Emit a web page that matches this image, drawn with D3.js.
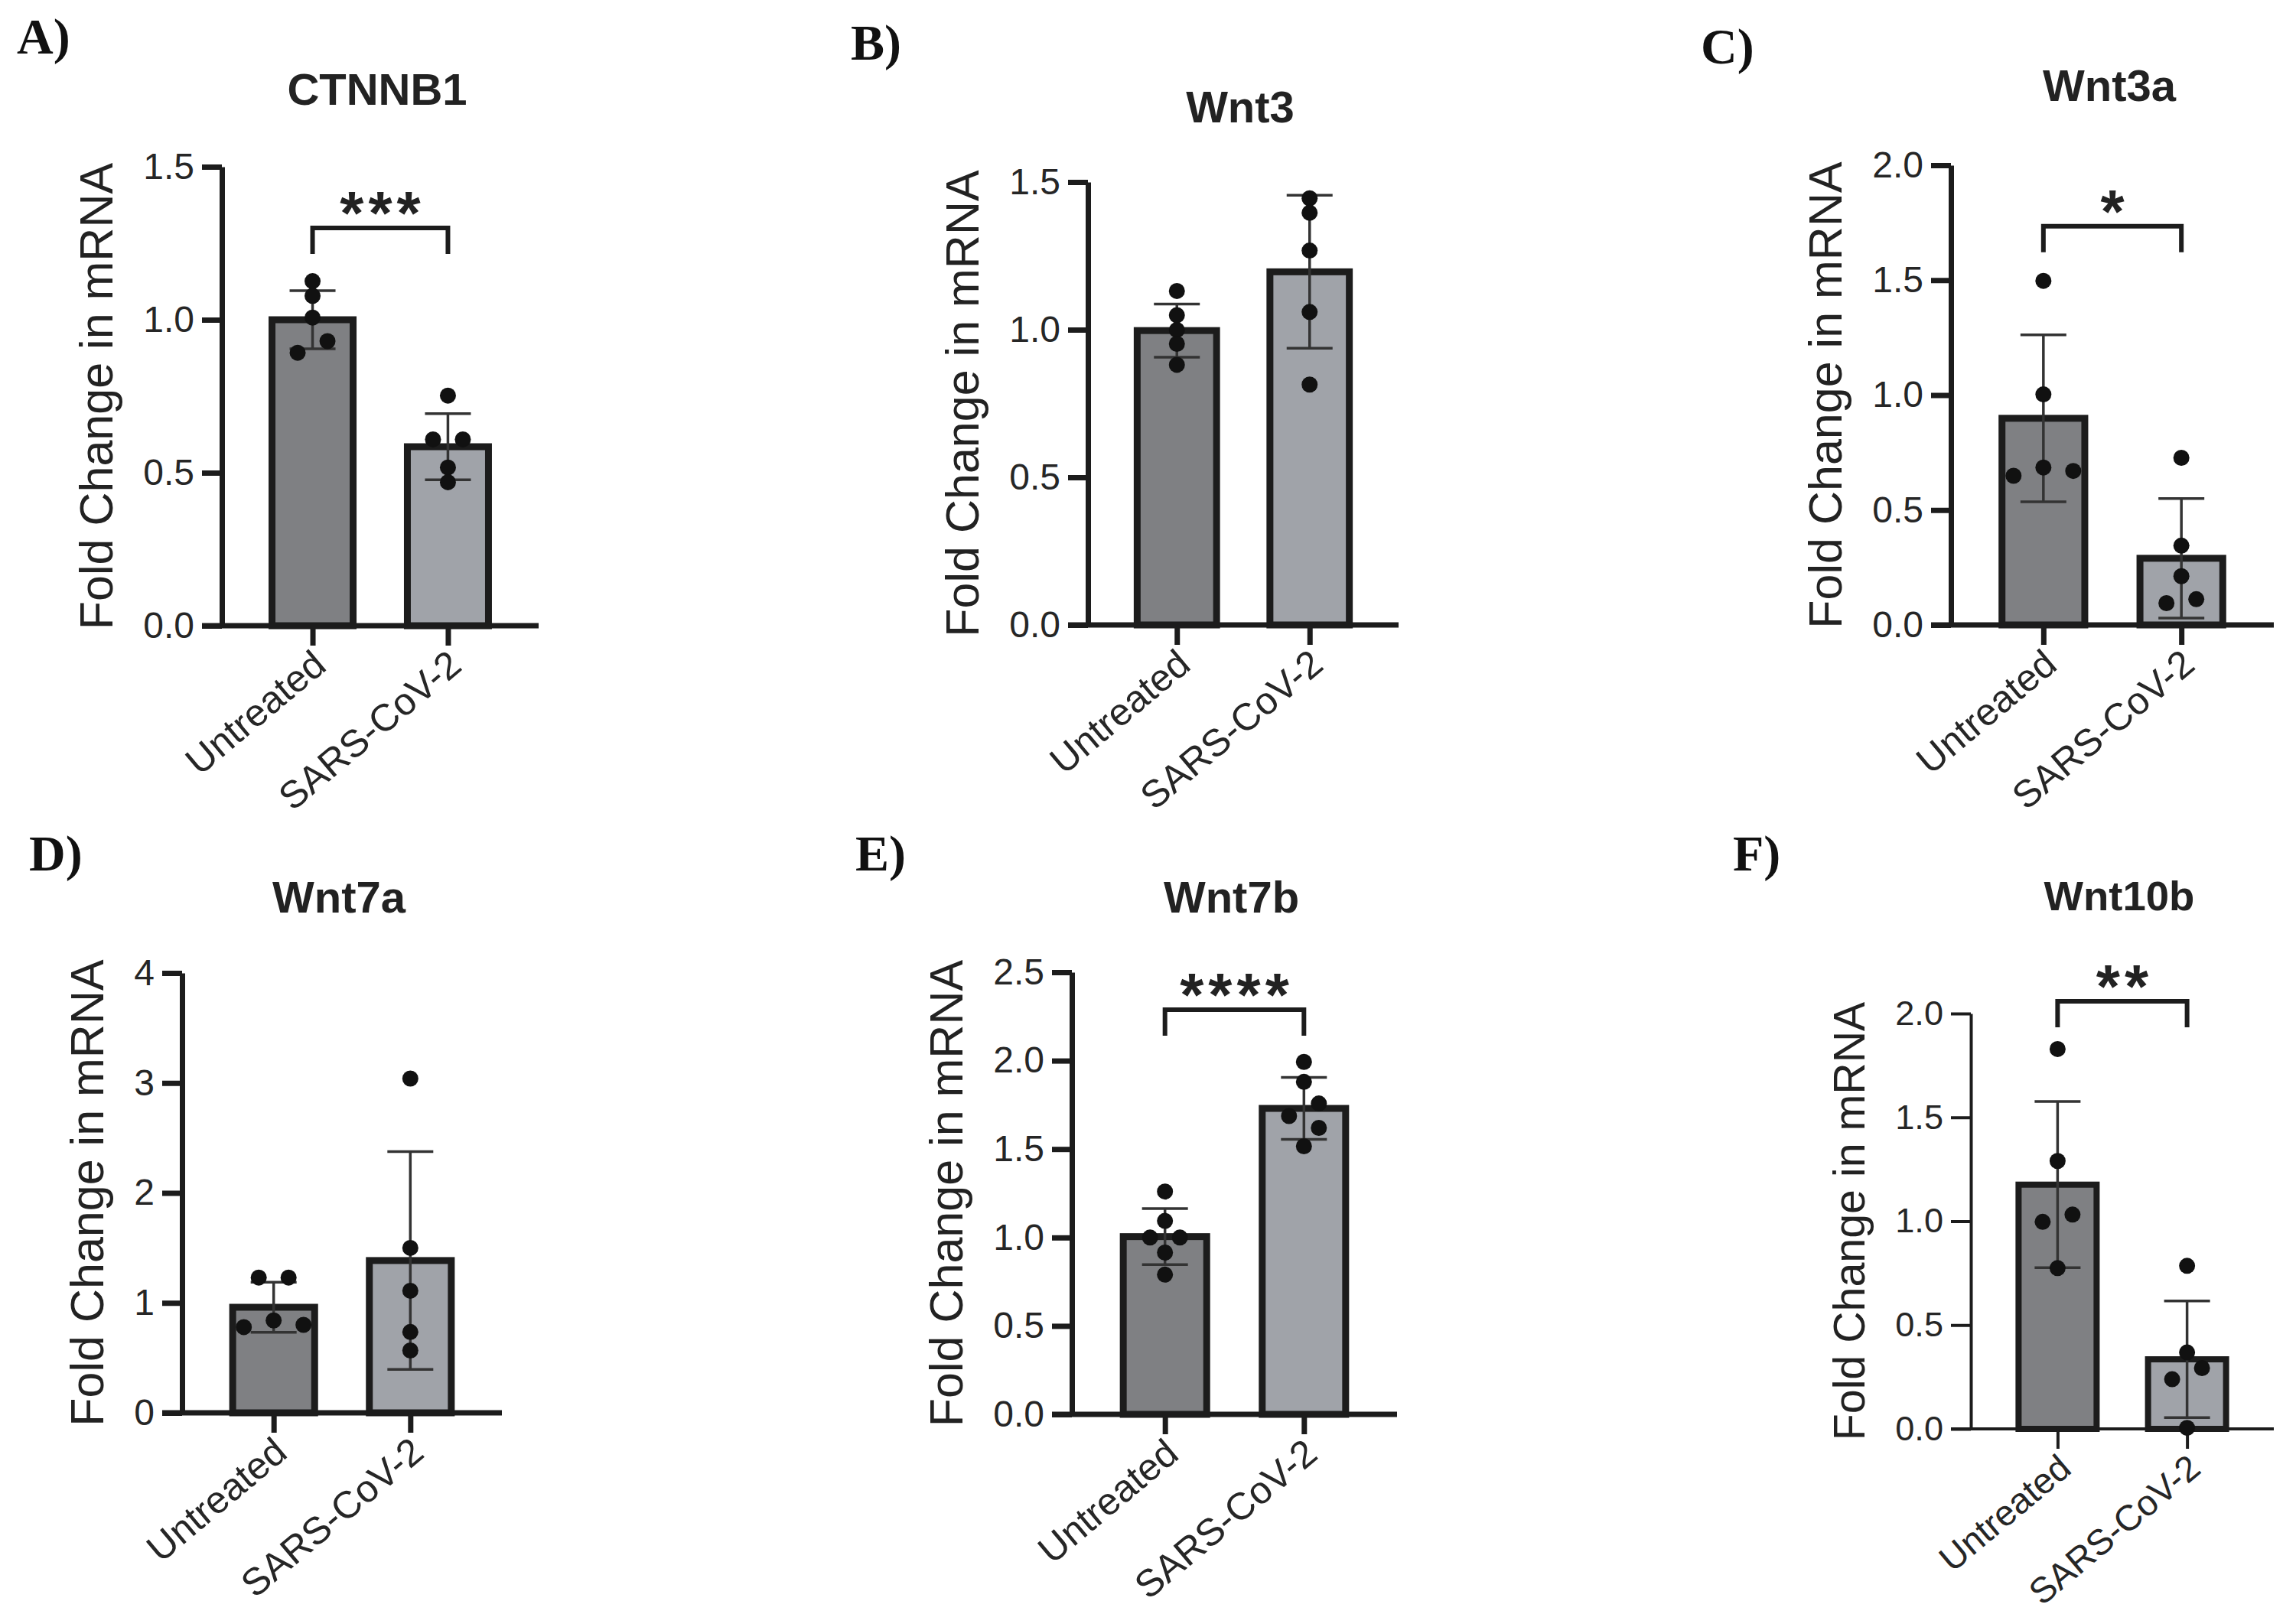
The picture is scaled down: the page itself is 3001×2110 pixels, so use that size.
<!DOCTYPE html>
<html>
<head>
<meta charset="utf-8">
<script src="https://cdn.jsdelivr.net/npm/d3@7"></script>
<style>
  body { margin: 0; background: #fff; }
  text { font-family: "Liberation Sans", Arial, sans-serif; }
</style>
</head>
<body>
<svg id="fig" width="3001" height="2110"></svg>
<script>
// ---- data (mean, SD, individual replicates) ----
var groups = ["Untreated", "SARS-CoV-2"];
var genes = ["CTNNB1", "Wnt3", "Wnt3a", "Wnt7a", "Wnt7b", "Wnt10b"];
var panelLetters = ["A)", "B)", "C)", "D)", "E)", "F)"];
var yMax = [1.5, 1.5, 2.0, 4, 2.5, 2.0];
var yStep = [0.5, 0.5, 0.5, 1, 0.5, 0.5];

var meanUntreated = [1.0, 0.997, 0.899, 0.96, 1.005, 1.176];
var meanSars = [0.585, 1.196, 0.29, 1.385, 1.73, 0.335];
var sdUntreated = [0.095, 0.09, 0.363, 0.228, 0.158, 0.40];
var sdSars = [0.108, 0.259, 0.26, 0.99, 0.175, 0.281];

var pointsUntreated = [
    [1.126, 1.078, 1.007, 0.930, 0.892],
    [1.131, 1.049, 0.999, 0.952, 0.881],
    [1.497, 1.003, 0.685, 0.670, 0.649],
    [1.23, 1.23, 0.84, 0.80, 0.78],
    [1.26, 1.094, 1.0, 1.0, 0.915, 0.79],
    [1.829, 1.29, 1.032, 0.997, 0.774]
];
var pointsSars = [
    [0.752, 0.609, 0.609, 0.517, 0.469],
    [1.445, 1.396, 1.268, 1.06, 0.814],
    [0.727, 0.345, 0.212, 0.112, 0.095],
    [3.04, 1.50, 1.11, 0.735, 0.567],
    [1.993, 1.88, 1.758, 1.687, 1.62, 1.516],
    [0.785, 0.368, 0.293, 0.239, 0.005]
];

var sigStars = ["***", "", "*", "", "****", "**"];
var sigLevel = [1.30, null, 1.735, null, 2.288, 2.059];

// ---- panel frames (pixel layout of each small chart) ----
var frames = [
    { ox: 290, top: 218, bottom: 818, right: 704, titleY: 137, lx: 22, ly: 70 },
    { ox: 1422, top: 238, bottom: 817, right: 1828, titleY: 160, lx: 1112, ly: 78 },
    { ox: 2550, top: 216, bottom: 817, right: 2972, titleY: 132, lx: 2223, ly: 83 },
    { ox: 238, top: 1272, bottom: 1847, right: 656, titleY: 1193, lx: 38, ly: 1138 },
    { ox: 1401, top: 1271, bottom: 1849, right: 1826, titleY: 1193, lx: 1118, ly: 1138 },
    { ox: 2576, top: 1325, bottom: 1868, right: 2972, titleY: 1190, lx: 2265, ly: 1138, thin: true }
];

var fills = ["#7f8083", "#a0a3a9"];
var ink = "#1c1c1c";
var tickLen = 26;
var dotR = 10.5;
var half = 19.5;   // half spacing of side-by-side dots

var svg = d3.select("#fig");

// spread dots that would sit on top of each other (Prism-like)
function spread(vals, y) {
    var order = d3.range(vals.length).sort(function (a, b) { return vals[b] - vals[a]; });
    var off = vals.map(function () { return 0; });
    var i = 0;
    while (i < order.length) {
        var j = i;
        while (j + 1 < order.length && Math.abs(y(vals[order[j]]) - y(vals[order[j + 1]])) < 17) j++;
        var chain = order.slice(i, j + 1);
        var tight = Math.abs(y(vals[chain[0]]) - y(vals[chain[chain.length - 1]])) < 17;
        if (chain.length === 2 && tight) {
            off[chain[0]] = half; off[chain[1]] = -half;
        } else if (chain.length === 3 && tight) {
            off[chain[1]] = 2 * half; off[chain[2]] = -2 * half;
        } else if (chain.length > 1) {
            chain.forEach(function (k, m) { off[k] = m % 2 ? -half : half; });
        }
        i = j + 1;
    }
    return off;
}

frames.forEach(function (f, i) {
    var k = f.thin ? 0.94 : 1;
    var axisW = f.thin ? 4 : 7;
    var barStroke = f.thin ? 8 : 9;
    var g = svg.append("g");

    var x = d3.scalePoint().domain(groups).range([f.ox, f.right]).padding(0.67);
    var y = d3.scaleLinear().domain([0, yMax[i]]).range([f.bottom, f.top]);
    var bw = x.step() * 0.65;

    // panel letter
    g.append("text")
        .attr("x", f.lx).attr("y", f.ly)
        .style("font-family", "'Liberation Serif', 'Times New Roman', serif")
        .style("font-weight", "bold")
        .style("font-size", "66px")
        .attr("fill", "#111")
        .text(panelLetters[i]);

    // gene title
    g.append("text")
        .attr("x", (f.ox + f.right) / 2 - 4).attr("y", f.titleY)
        .attr("text-anchor", "middle")
        .style("font-weight", "bold")
        .style("font-size", (58 * k) + "px")
        .attr("fill", "#222")
        .text(genes[i]);

    var means = [meanUntreated[i], meanSars[i]];
    var sds = [sdUntreated[i], sdSars[i]];
    var pts = [pointsUntreated[i], pointsSars[i]];

    // bars
    g.selectAll("rect.bar")
        .data(groups)
        .enter().append("rect")
        .attr("class", "bar")
        .attr("x", function (d) { return x(d) - bw / 2 + barStroke / 2; })
        .attr("width", bw - barStroke)
        .attr("y", function (d, j) { return y(means[j]); })
        .attr("height", function (d, j) { return y(0) - y(means[j]); })
        .attr("fill", function (d, j) { return fills[j]; })
        .attr("stroke", ink)
        .attr("stroke-width", barStroke);

    // error bars (mean +/- SD)
    groups.forEach(function (grp, j) {
        var cx = x(grp);
        var lo = Math.max(0, means[j] - sds[j]), hi = means[j] + sds[j];
        var eb = g.append("g").attr("stroke", "#333").attr("stroke-width", 3.5).attr("fill", "none");
        eb.append("line").attr("x1", cx).attr("x2", cx).attr("y1", y(lo)).attr("y2", y(hi));
        eb.append("line").attr("x1", cx - 30).attr("x2", cx + 30).attr("y1", y(hi)).attr("y2", y(hi));
        eb.append("line").attr("x1", cx - 30).attr("x2", cx + 30).attr("y1", y(lo)).attr("y2", y(lo));
    });

    // y axis
    var ticks = d3.range(0, yMax[i] + 1e-9, yStep[i]);
    var yAxis = g.append("g")
        .attr("transform", "translate(" + f.ox + ",0)")
        .call(d3.axisLeft(y).tickValues(ticks).tickSize(tickLen).tickSizeOuter(0).tickPadding(10)
            .tickFormat(yStep[i] < 1 ? d3.format(".1f") : d3.format("d")));
    yAxis.select(".domain").attr("stroke", ink).attr("stroke-width", axisW);
    yAxis.selectAll(".tick line").attr("stroke", ink).attr("stroke-width", axisW);
    yAxis.selectAll(".tick text")
        .attr("fill", "#262626")
        .style("font-family", "'Liberation Sans', Arial, sans-serif")
        .style("font-size", (48 * k) + "px");

    var maxW = d3.max(yAxis.selectAll(".tick text").nodes(), function (n) { return n.getComputedTextLength(); });

    // x axis line runs out past the y axis by one tick length
    g.append("line")
        .attr("x1", f.ox - tickLen).attr("x2", f.right)
        .attr("y1", f.bottom).attr("y2", f.bottom)
        .attr("stroke", ink).attr("stroke-width", axisW);

    var xAxis = g.append("g")
        .attr("transform", "translate(0," + f.bottom + ")")
        .call(d3.axisBottom(x).tickSize(tickLen).tickSizeOuter(0));
    xAxis.select(".domain").remove();
    xAxis.selectAll(".tick line").attr("stroke", ink).attr("stroke-width", axisW);
    xAxis.selectAll(".tick text")
        .attr("x", null).attr("y", null).attr("dy", null)
        .attr("text-anchor", "end")
        .attr("transform", "translate(20,56) rotate(-40)")
        .attr("fill", "#262626")
        .style("font-family", "'Liberation Sans', Arial, sans-serif")
        .style("font-size", (50 * k) + "px");

    // y axis title
    var tx = f.ox - tickLen - 10 - maxW - 40;
    g.append("text")
        .attr("transform", "translate(" + tx + "," + ((f.top + f.bottom) / 2) + ") rotate(-90)")
        .attr("text-anchor", "middle")
        .style("font-size", (61 * k) + "px")
        .attr("fill", "#222")
        .text("Fold Change in mRNA");

    // replicate dots
    groups.forEach(function (grp, j) {
        var off = spread(pts[j], y);
        g.selectAll(null)
            .data(pts[j])
            .enter().append("circle")
            .attr("cx", function (d, m) { return x(grp) + off[m]; })
            .attr("cy", function (d) { return y(d); })
            .attr("r", dotR)
            .attr("fill", "#111");
    });

    // significance bracket
    if (sigLevel[i] !== null) {
        var by = y(sigLevel[i]);
        var x1 = x(groups[0]), x2 = x(groups[1]);
        g.append("path")
            .attr("d", "M" + x1 + "," + (by + 34) + "V" + by + "H" + x2 + "V" + (by + 34))
            .attr("fill", "none").attr("stroke", ink).attr("stroke-width", 6);
        g.append("text")
            .attr("x", (x1 + x2) / 2 + 3).attr("y", by + 8)
            .attr("text-anchor", "middle")
            .style("font-weight", "bold")
            .style("font-size", "80px")
            .style("letter-spacing", "6px")
            .attr("fill", "#222")
            .text(sigStars[i]);
    }
});
</script>
</body>
</html>
